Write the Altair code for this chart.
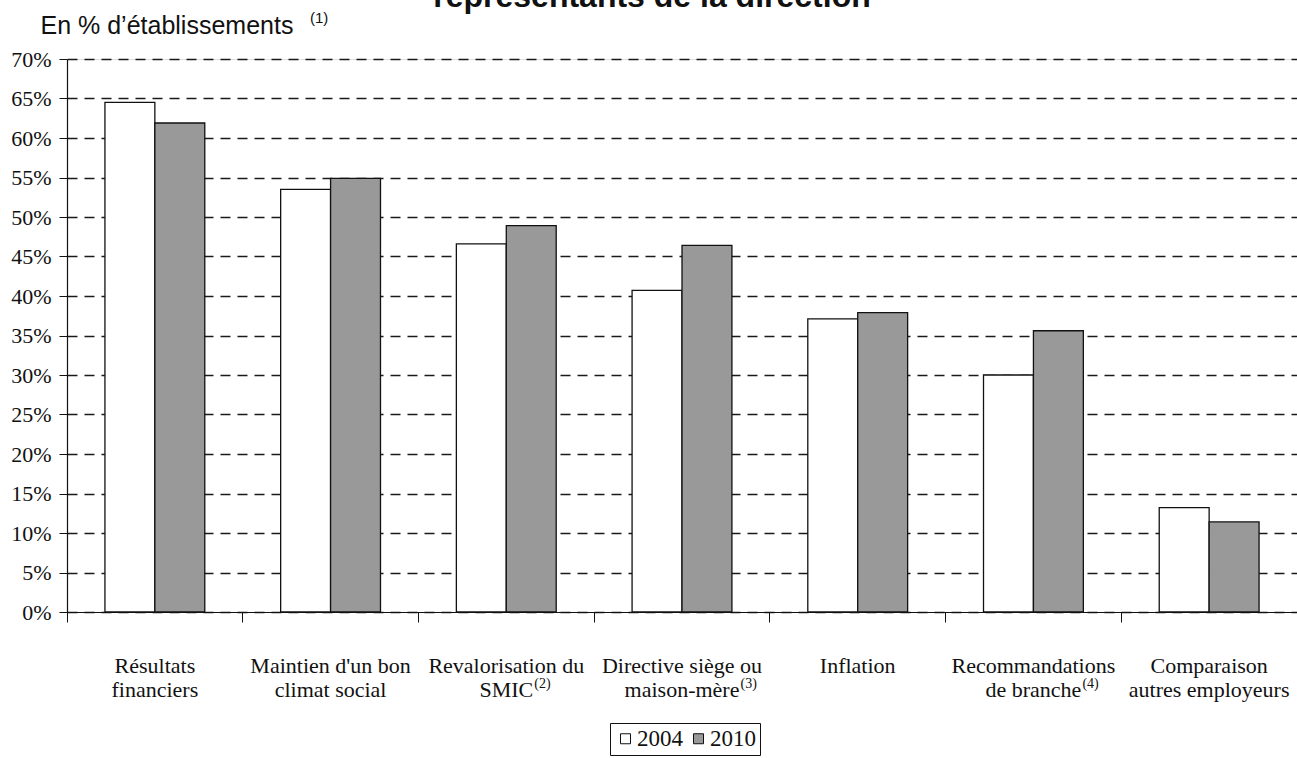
import altair as alt
import pandas as pd

# Criteria, one entry per group of bars (axis labels split on "\n")
categories = [
    "Résultats\nfinanciers",
    "Maintien d'un bon\nclimat social",
    "Revalorisation du\nSMIC",
    "Directive siège ou\nmaison-mère",
    "Inflation",
    "Recommandations\nde branche",
    "Comparaison\nautres employeurs",
]
years = ["2004", "2010"]
values_2004 = [64.5, 53.5, 46.6, 40.7, 37.1, 30.0, 13.2]
values_2010 = [61.9, 54.9, 48.9, 46.4, 37.9, 35.6, 11.4]
y_ticks = list(range(0, 75, 5))

# Footnote calls attached to some axis labels: (category index, text, offset from label centre)
footnotes = [(2, "(2)", 28), (3, "(3)", 58.5), (5, "(4)", 49)]

rows = []
for cat, v04, v10 in zip(categories, values_2004, values_2010):
    rows.append({"critere": cat, "annee": "2004", "pct": v04})
    rows.append({"critere": cat, "annee": "2010", "pct": v10})
df = pd.DataFrame(rows)

serif = "Liberation Serif"
sans = "Liberation Sans"
ink = "#111111"

x_enc = alt.X(
    "critere:N",
    sort=categories,
    scale=alt.Scale(paddingInner=0, paddingOuter=0),
    axis=alt.Axis(
        title=None,
        labelExpr="split(datum.label, '\\n')",
        labelFont=serif,
        labelFontSize=22,
        labelColor=ink,
        labelLineHeight=24,
        labelAngle=0,
        labelPadding=33,
        labelLimit=400,
        bandPosition=0,
        tickSize=10,
        tickColor=ink,
        domainColor=ink,
        domainWidth=1.2,
    ),
)

bars = alt.Chart(df).mark_bar(stroke=ink, strokeWidth=1.3).encode(
    x=x_enc,
    xOffset=alt.XOffset("annee:N", sort=years, scale=alt.Scale(paddingInner=0, paddingOuter=0.76)),
    y=alt.Y(
        "pct:Q",
        scale=alt.Scale(domain=[0, 70], nice=False),
        axis=alt.Axis(
            values=y_ticks,
            labelExpr="datum.value + '%'",
            labelFont=serif,
            labelFontSize=22,
            labelColor=ink,
            labelPadding=8,
            tickSize=8,
            tickColor=ink,
            domainColor=ink,
            domainWidth=1.2,
            grid=True,
            gridColor="#1a1a1a",
            gridWidth=1.4,
            gridDash=[10, 7],
            title="En % d’établissements",
            titleFont=sans,
            titleFontSize=25,
            titleFontWeight="normal",
            titleColor=ink,
            titleAngle=0,
            titleAlign="left",
            titleBaseline="alphabetic",
            titleX=-27,
            titleY=-26,
        ),
    ),
    fill=alt.Fill(
        "annee:N",
        sort=years,
        scale=alt.Scale(domain=years, range=["#ffffff", "#999999"]),
        legend=alt.Legend(
            title=None,
            orient="none",
            direction="horizontal",
            legendX=543,
            legendY=664,
            strokeColor=ink,
            padding=4,
            symbolType="square",
            symbolSize=100,
            symbolStrokeColor=ink,
            symbolStrokeWidth=1,
            labelFont=serif,
            labelFontSize=23,
            labelColor=ink,
            labelOffset=0,
            columnPadding=4,
        ),
    ),
)

layers = [bars]

# Footnote calls beside the second line of some axis labels
for idx, txt, off in footnotes:
    layers.append(
        alt.Chart(pd.DataFrame({"critere": [categories[idx]], "note": [txt]}))
        .mark_text(font=serif, fontSize=14, color=ink, align="left", baseline="alphabetic", dx=off)
        .encode(x=alt.X("critere:N", sort=categories), y=alt.value(629), text="note:N")
    )

# Footnote call of the axis title
layers.append(
    alt.Chart(pd.DataFrame({"note": ["(1)"]}))
    .mark_text(font=sans, fontSize=15, color=ink, align="left", baseline="alphabetic")
    .encode(x=alt.value(243), y=alt.value(-36), text="note:N")
)

# Second line of the chart heading, running off the top edge
layers.append(
    alt.Chart(pd.DataFrame({"t": ["représentants de la direction"]}))
    .mark_text(font=sans, fontSize=32, fontWeight="bold", color=ink, align="center", baseline="alphabetic")
    .encode(text="t:N", x=alt.value(585), y=alt.value(-52))
)

chart = (
    alt.layer(*layers)
    .properties(
        width=1230,
        height=553,
        autosize=alt.AutoSizeParams(type="none"),
        padding={"left": 67, "top": 59, "right": 0, "bottom": 146},
    )
    .configure_view(strokeWidth=0)
    .configure(background="white")
)

chart.save("out.html", embed_options={"renderer": "svg", "actions": False})
